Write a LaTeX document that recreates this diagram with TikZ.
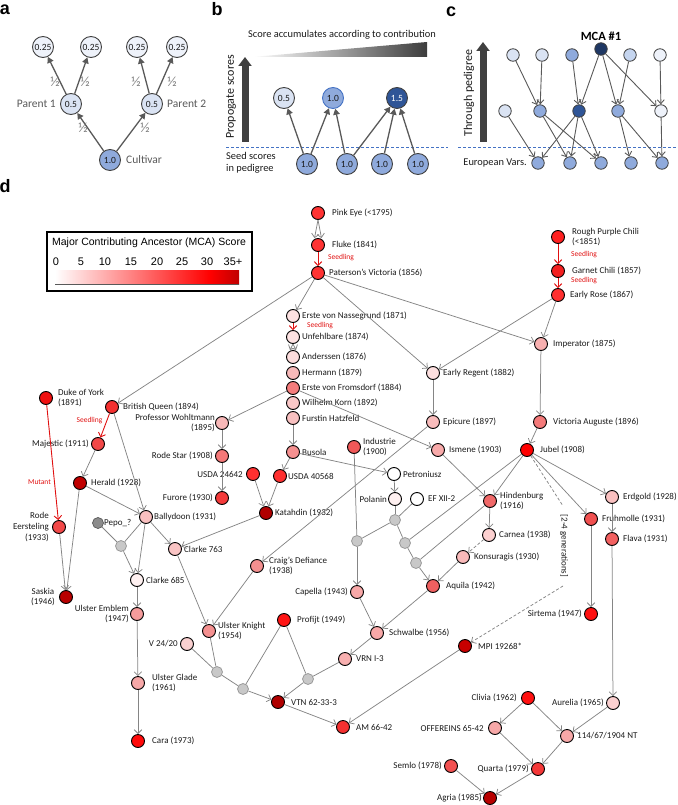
\documentclass[tikz,border=0pt]{standalone}
\usepackage{fontspec}
\setmainfont{Carlito}
\newfontfamily\arialfont{Liberation Sans}
\usetikzlibrary{arrows.meta}

\definecolor{edgegray}{HTML}{858585}
\definecolor{seedred}{HTML}{E01010}
\definecolor{ink}{HTML}{1A1A1A}
\definecolor{softink}{HTML}{595959}
\definecolor{halfink}{HTML}{7F7F7F}
\definecolor{bluePale}{HTML}{EEF2FA}
\definecolor{blueLight}{HTML}{DAE3F3}
\definecolor{blueSoft}{HTML}{C5D5EF}
\definecolor{blueMid}{HTML}{8FAADC}
\definecolor{blueDark}{HTML}{2F5597}
\definecolor{blueNavy}{HTML}{1F3864}
\definecolor{blueLine}{HTML}{4472C4}
\definecolor{crossgray}{HTML}{C8C8C8}
\definecolor{crossline}{HTML}{9A9A9A}
\definecolor{pepogray}{HTML}{8C8C8C}
\definecolor{bigarrow}{HTML}{404040}
\definecolor{deepred}{HTML}{C00000}

\tikzset{
  letter/.style={inner sep=0pt, font=\arialfont\bfseries\fontsize{18}{18}\selectfont},
  an/.style={circle, draw=bigarrow, line width=0.9pt, minimum size=21pt, inner sep=0pt,
             font=\fontsize{9.5}{10}\selectfont, text=ink},
  cn/.style={circle, draw=bigarrow, line width=0.8pt, minimum size=12.5pt, inner sep=0pt},
  pn/.style={circle, draw=black, line width=0.9pt, minimum size=13pt, inner sep=0pt},
  gn/.style={circle, draw=crossline, fill=crossgray, line width=0.8pt, minimum size=11pt, inner sep=0pt},
  lab/.style={inner sep=0pt, font=\fontsize{9}{10.6}\selectfont, text=ink},
  note/.style={inner sep=0pt, font=\fontsize{7.5}{8}\selectfont, text=seedred},
  paneltext/.style={inner sep=0pt, font=\fontsize{11.5}{13}\selectfont, text=softink},
  btext/.style={inner sep=0pt, font=\fontsize{10.4}{12}\selectfont, text=ink},
  half/.style={inner sep=0pt, font=\fontsize{14}{14}\selectfont, text=halfink},
  fat/.style={draw=softink, line width=1.3pt, -{Triangle[length=6pt,width=6.5pt]}},
  thin/.style={draw=softink, line width=0.9pt, -{Straight Barb[length=4pt,width=7pt]}},
  ped/.style={draw=edgegray, line width=0.75pt},
  pa/.style={ped, -{Straight Barb[length=3.8pt,width=7.5pt]}},
  ra/.style={draw=seedred, line width=0.9pt, -{Straight Barb[length=3.8pt,width=7.5pt]}},
  da/.style={pa, dash pattern=on 3pt off 2pt},
  dl/.style={ped, dash pattern=on 3pt off 2pt},
  legtext/.style={inner sep=0pt, font=\arialfont\fontsize{10.5}{12}\selectfont, text=black},
  legnum/.style={inner sep=0pt, font=\arialfont\fontsize{11}{12}\selectfont, text=black},
}

% pedigree variety: id, x, y, fill (HTML), label options, label x offset, label text
\newcommand\pv[7]{%
  \definecolor{pvfill}{HTML}{#4}%
  \node[pn, fill=pvfill] (#1) at (#2,#3) {};%
  \node[lab, #5] (#1-t) at ([xshift=#6pt]#1.center) {#7};}

\begin{document}
\begin{tikzpicture}[x=1pt,y=-1pt]
\useasboundingbox (0,0) rectangle (677,805);

% ---------------- panel letters ----------------
\node[letter] (la) at (5,10) {a};
\node[letter] (lb) at (217,9) {b};
\node[letter] (lc) at (451,12) {c};
\node[letter] (ld) at (5,186) {d};

% ---------------- panel a: score halving ----------------
\node[an, fill=bluePale] (a1) at (43,47) {0.25};
\node[an, fill=bluePale] (a2) at (91,47) {0.25};
\node[an, fill=bluePale] (a3) at (137,47) {0.25};
\node[an, fill=bluePale] (a4) at (177,47) {0.25};
\node[an, fill=blueLight] (p1) at (71,104) {0.5};
\node[an, fill=blueLight] (p2) at (152,104) {0.5};
\node[an, fill=blueMid] (cv) at (110,160) {1.0};
\draw[fat] (p1) -- (a1);
\draw[fat] (p1) -- (a2);
\draw[fat] (p2) -- (a3);
\draw[fat] (p2) -- (a4);
\draw[fat] (cv) -- (p1);
\draw[fat] (cv) -- (p2);
\node[half] (h1) at (55,82) {½};
\node[half] (h2) at (85,82) {½};
\node[half] (h3) at (136,82) {½};
\node[half] (h4) at (172,82) {½};
\node[half] (h5) at (83,128) {½};
\node[half] (h6) at (145,128) {½};
\node[paneltext, anchor=east] (p1t) at (56,104) {Parent 1};
\node[paneltext, anchor=west] (p2t) at (167,104) {Parent 2};
\node[paneltext, anchor=west] (cvt) at (126,160) {Cultivar};

% ---------------- panel b: accumulation ----------------
\node[btext] (acc) at (342,35) {Score accumulates according to contribution};
\shade[left color=white, right color=bigarrow!95!black] (252,57) -- (427,42) -- (427,57) -- cycle;
\coordinate (bstart) at (245,142);
\coordinate (bend) at (245,57);
\draw[draw=bigarrow, line width=7pt, -{Triangle[length=9pt,width=13pt]}] (bstart) -- (bend);
\node[inner sep=0pt, font=\fontsize{12}{13}\selectfont, text=ink, rotate=90] (prop) at (231,97) {Propogate scores};
\coordinate (bl0) at (226,147);
\coordinate (bl1) at (448,147);
\draw[blueLine, dash pattern=on 3pt off 2pt, line width=0.7pt] (bl0) -- (bl1);
\node[btext, anchor=west, align=left] (seed) at (226,163) {Seed scores\\in pedigree};
\node[an, fill=blueMid] (b1) at (307,164) {1.0};
\node[an, fill=blueMid] (b2) at (347,164) {1.0};
\node[an, fill=blueMid] (b3) at (382,164) {1.0};
\node[an, fill=blueMid] (b4) at (418,164) {1.0};
\node[an, fill=blueLight] (bt1) at (284,98) {0.5};
\node[an, fill=blueMid, draw=blueLine] (bt2) at (333,98) {1.0};
\node[an, fill=blueDark, text=white] (bt3) at (397,98) {1.5};
\draw[fat] (b1) -- (bt1);
\draw[fat] (b1) -- (bt2);
\draw[fat] (b2) -- (bt2);
\draw[fat] (b2) -- (bt3);
\draw[fat] (b3) -- (bt3);
\draw[fat] (b4) -- (bt3);

% ---------------- panel c: through pedigree ----------------
\node[inner sep=0pt, font=\bfseries\fontsize{12.5}{13}\selectfont, text=black] (mcat) at (601,36) {MCA \#1};
\coordinate (cstart) at (483,142);
\coordinate (cend) at (483,42);
\draw[draw=bigarrow, line width=7pt, -{Triangle[length=9pt,width=13pt]}] (cstart) -- (cend);
\node[inner sep=0pt, font=\fontsize{12}{13}\selectfont, text=ink, rotate=90] (thr) at (469,93) {Through pedigree};
\coordinate (cl0) at (458,147);
\coordinate (cl1) at (677,147);
\draw[blueLine, dash pattern=on 3pt off 2pt, line width=0.7pt] (cl0) -- (cl1);
\node[btext, anchor=east] (euro) at (527,163) {European Vars.};
\node[cn, fill=blueLight] (c11) at (513,55) {};
\node[cn, fill=blueLight] (c12) at (542,55) {};
\node[cn, fill=blueMid] (c13) at (572,55) {};
\node[cn, fill=blueNavy] (cm) at (601,49) {};
\node[cn, fill=blueSoft] (c15) at (630,55) {};
\node[cn, fill=bluePale] (c16) at (660,55) {};
\node[cn, fill=blueLight] (c21) at (505,111) {};
\node[cn, fill=blueMid] (c22) at (540,111) {};
\node[cn, fill=blueDark] (c23) at (579,111) {};
\node[cn, fill=blueMid] (c24) at (618,111) {};
\node[cn, fill=bluePale] (c25) at (661,111) {};
\node[cn, fill=blueMid] (c31) at (538,163) {};
\node[cn, fill=blueMid] (c32) at (570,163) {};
\node[cn, fill=blueMid] (c33) at (601,163) {};
\node[cn, fill=blueMid] (c34) at (631,163) {};
\node[cn, fill=blueMid] (c35) at (662,163) {};
\draw[thin] (c11) -- (c22);
\draw[thin] (c12) -- (c22);
\draw[thin] (c13) -- (c23);
\draw[thin] (cm) -- (c23);
\draw[thin] (cm) -- (c24);
\draw[thin] (cm) -- (c25);
\draw[thin] (c15) -- (c24);
\draw[thin] (c16) -- (c25);
\draw[thin] (c21) -- (c31);
\draw[thin] (c22) -- (c32);
\draw[thin] (c22) -- (c33);
\draw[thin] (c23) -- (c31);
\draw[thin] (c23) -- (c32);
\draw[thin] (c23) -- (c33);
\draw[thin] (c24) -- (c34);
\draw[thin] (c24) -- (c35);
\draw[thin] (c25) -- (c35);

% ---------------- panel d: legend ----------------
\draw[line width=2pt] (47,232) rectangle (252,291);
\node[legtext] (legt) at (149,243) {Major Contributing Ancestor (MCA) Score};
\node[legnum] (n0) at (56,262) {0};
\node[legnum] (n5) at (81,262) {5};
\node[legnum] (n10) at (105,262) {10};
\node[legnum] (n15) at (131,262) {15};
\node[legnum] (n20) at (157,262) {20};
\node[legnum] (n25) at (182,262) {25};
\node[legnum] (n30) at (207,262) {30};
\node[legnum] (n35) at (233,262) {35+};
\shade[left color=white, right color=red] (55,270) rectangle (210,284);
\shade[left color=red, right color=deepred] (210,270) rectangle (239,284);
\draw[softink, line width=0.9pt] (55,284) -- (239,284);

% ---------------- panel d: pedigree varieties ----------------
\pv{pinkeye}{318}{213}{FF3333}{anchor=west}{14}{Pink Eye (<1795)}
\pv{fluke}{318}{245}{FF3333}{anchor=west}{14}{Fluke (1841)}
\pv{paterson}{318}{273}{FF3333}{anchor=west}{11}{Paterson’s Victoria (1856)}
\pv{rpc}{558}{237}{FF2020}{anchor=west,align=left}{14}{Rough Purple Chili\\(<1851)}
\pv{garnet}{558}{271}{F42020}{anchor=west}{14}{Garnet Chili (1857)}
\pv{earlyrose}{558}{295}{FF3030}{anchor=west}{12}{Early Rose (1867)}
\pv{nasse}{293}{316}{FDE2E2}{anchor=west}{9}{Erste von Nassegrund (1871)}
\pv{unfehl}{293}{337}{FDE2E2}{anchor=west}{9}{Unfehlbare (1874)}
\pv{anders}{293}{357}{FCDCDC}{anchor=west}{9}{Anderssen (1876)}
\pv{hermann}{293}{373}{F8BABA}{anchor=west}{9}{Hermann (1879)}
\pv{fromsd}{293}{388}{F47C7C}{anchor=west}{9}{Erste von Fromsdorf (1884)}
\pv{korn}{293}{403}{FAC8C8}{anchor=west}{9}{Wilhelm Korn (1892)}
\pv{hatz}{293}{418}{F8C0C0}{anchor=west}{9}{Furstin Hatzfeld}
\pv{busola}{293}{452}{F69090}{anchor=west}{9}{Busola}
\pv{usdab}{280}{476}{FF3030}{anchor=west}{8}{USDA 40568}
\pv{usdaa}{253}{474}{FF3030}{anchor=east,fill=white}{-10}{USDA 24642}
\pv{industrie}{354}{447}{F05858}{anchor=west,align=left}{9}{Industrie\\(1900)}
\pv{petron}{394}{474}{FFFFFF}{anchor=west}{9}{Petroniusz}
\pv{eregent}{433}{373}{FDE0E0}{anchor=west}{10}{Early Regent (1882)}
\pv{imperator}{541}{344}{F8B0B0}{anchor=west}{12}{Imperator (1875)}
\pv{epicure}{433}{422}{F9BCBC}{anchor=west}{10}{Epicure (1897)}
\pv{vicaug}{540}{422}{F47A7A}{anchor=west}{13}{Victoria Auguste (1896)}
\pv{ismene}{438}{450}{F8AAAA}{anchor=west}{11}{Ismene (1903)}
\pv{jubel}{527}{450}{FF0000}{anchor=west}{13}{Jubel (1908)}
\pv{polanin}{395}{499}{FEF0F0}{anchor=east}{-8}{Polanin}
\pv{efxii}{417}{499}{FFFFFF}{anchor=west}{11}{EF XII-2}
\pv{hindenburg}{490}{501}{F06868}{anchor=west,align=left}{10}{Hindenburg\\(1916)}
\pv{erdgold}{612}{497}{F9C0C0}{anchor=west}{11}{Erdgold (1928)}
\pv{fruhmolle}{591}{519}{F05050}{anchor=west}{11}{Fruhmolle (1931)}
\pv{flava}{612}{539}{F26060}{anchor=west}{11}{Flava (1931)}
\pv{carnea}{489}{535}{FCD0D0}{anchor=west}{10}{Carnea (1938)}
\pv{konsur}{463}{557}{F9BABA}{anchor=west}{11}{Konsuragis (1930)}
\pv{aquila}{433}{586}{F06060}{anchor=west}{13}{Aquila (1942)}
\pv{sirtema}{591}{614}{FF1010}{anchor=east}{-9}{Sirtema (1947)}
\pv{schwalbe}{377}{633}{F8A8A8}{anchor=west}{12}{Schwalbe (1956)}
\pv{vrn}{345}{659}{F8B0B0}{anchor=west}{11}{VRN I-3}
\pv{am}{343}{727}{F43030}{anchor=west}{13}{AM 66-42}
\pv{mpi}{465}{646}{C80000}{anchor=west}{13}{MPI 19268*}
\pv{clivia}{528}{698}{FF1010}{anchor=east}{-11}{Clivia (1962)}
\pv{aurelia}{613}{703}{FBD0D0}{anchor=east}{-9}{Aurelia (1965)}
\pv{offereins}{495}{728}{F7A8A8}{anchor=east}{-11}{OFFEREINS 65-42}
\pv{nt}{567}{736}{F7A8A8}{anchor=west}{10}{114/67/1904 NT}
\pv{quarta}{538}{769}{F43838}{anchor=east}{-9}{Quarta (1979)}
\pv{semlo}{451}{766}{F25050}{anchor=east}{-9}{Semlo (1978)}
\pv{agria}{490}{798}{B80000}{anchor=east}{-8}{Agria (1985)}
\pv{duke}{46}{398}{F01010}{anchor=west,align=left}{12}{Duke of York\\(1891)}
\pv{bqueen}{112}{407}{F43030}{anchor=west}{11}{British Queen (1894)}
\pv{wohlt}{222}{423}{F8B8B8}{anchor=east,align=right}{-7}{Professor Wohltmann\\(1895)}
\pv{majestic}{98}{444}{F24848}{anchor=east}{-9}{Majestic (1911)}
\pv{rodestar}{222}{456}{F47878}{anchor=east}{-9}{Rode Star (1908)}
\pv{herald}{80}{483}{C00000}{anchor=west}{11}{Herald (1928)}
\pv{furore}{222}{498}{F43A3A}{anchor=east}{-9}{Furore (1930)}
\pv{katahdin}{266}{513}{B00000}{anchor=west}{9}{Katahdin (1932)}
\pv{ballydoon}{146}{517}{F9C0C0}{anchor=west}{8}{Ballydoon (1931)}
\pv{rodeeer}{59}{527}{F24848}{anchor=east,align=right}{-10}{Rode\\Eersteling\\(1933)}
\pv{clarkea}{175}{549}{F9C4C4}{anchor=west}{9}{Clarke 763}
\pv{clarkeb}{137}{580}{FEF0F0}{anchor=west}{9}{Clarke 685}
\pv{craig}{257}{566}{F49090}{anchor=west,align=left}{12}{Craig’s Defiance\\(1938)}
\pv{saskia}{66}{597}{B80000}{anchor=east,align=center}{-11}{Saskia\\(1946)}
\pv{capella}{357}{592}{F8A8A8}{anchor=east}{-9}{Capella (1943)}
\pv{uemblem}{137}{614}{F59C9C}{anchor=east,align=right}{-8}{Ulster Emblem\\(1947)}
\pv{uknight}{209}{631}{F49090}{anchor=west,align=left}{9}{Ulster Knight\\(1954)}
\pv{profijt}{284}{620}{FF1515}{anchor=west}{13}{Profijt (1949)}
\pv{vtwenty}{187}{644}{FAD0D0}{anchor=east}{-9}{V 24/20}
\pv{vtn}{278}{702}{B00000}{anchor=west}{13}{VTN 62-33-3}
\pv{uglade}{138}{683}{F7A8A8}{anchor=west,align=left}{14}{Ulster Glade\\(1961)}
\pv{cara}{138}{741}{FF0A0A}{anchor=west}{14}{Cara (1973)}

% unnamed crosses and the unknown parent
\node[circle, draw=softink, fill=pepogray, line width=0.7pt, minimum size=11pt, inner sep=0pt] (pepo) at (98,523) {};
\node[lab, anchor=west] (pepo-t) at (104,523) {Pepo\_?};
\node[gn] (x1) at (395,520) {};
\node[gn] (x2) at (405,543) {};
\node[gn] (x3) at (416,563) {};
\node[gn] (x4) at (357,541) {};
\node[gn] (x5) at (121,546) {};
\node[gn] (x6) at (217,672) {};
\node[gn] (x7) at (243,689) {};
\node[gn] (x8) at (308,679) {};

% seedling / mutant notes
\node[note, anchor=west] (s1) at (328,258) {Seedling};
\node[note, anchor=west] (s2) at (571,255) {Seedling};
\node[note, anchor=west] (s3) at (571,281) {Seedling};
\node[note, anchor=west] (s4) at (307,326) {Seedling};
\node[note] (s5) at (89.5,421) {Seedling};
\node[note] (s6) at (39.5,482) {Mutant};

% red (seedling / mutant) descent
\draw[ra] (fluke) -- (paterson);
\draw[ra] (rpc) -- (garnet);
\draw[ra] (garnet) -- (earlyrose);
\draw[ra] (nasse) -- (unfehl);
\draw[ra] (bqueen) -- (majestic);
\draw[ra] (duke) -- (rodeeer);

% parentage
\draw[pa] (pinkeye.south) -- ([xshift=-3.5pt]fluke.north);
\draw[pa] (pinkeye.south) -- ([xshift=3.5pt]fluke.north);
\draw[pa] (unfehl.south) -- ([xshift=-3pt]anders.north);
\draw[pa] (unfehl.south) -- ([xshift=3pt]anders.north);
\draw[pa] (paterson) -- (nasse);
\draw[pa] (paterson) -- (bqueen);
\draw[pa] (paterson) -- (eregent);
\draw[pa] (paterson) -- (imperator);
\draw[pa] (earlyrose) -- (eregent);
\draw[pa] (earlyrose) -- (imperator);
\draw[pa] (fromsd) -- (wohlt);
\draw[pa] (fromsd) -- (ismene);
\draw[pa] (hatz) -- (busola);
\draw[pa] (busola) -- (usdab);
\draw[pa] (busola) -- (petron);
\draw[pa] (petron) -- (polanin);
\draw[pa] (eregent) -- (epicure);
\draw[pa] (imperator) -- (vicaug);
\draw[pa] (vicaug) -- (jubel);
\draw[pa] (epicure) -- (craig);
\draw[pa] (ismene) -- (hindenburg);
\draw[pa] (jubel) -- (hindenburg);
\draw[pa] (jubel) -- (fruhmolle);
\draw[pa] (jubel) -- (erdgold);
\draw[pa] (hindenburg) -- (carnea);
\draw[da] (carnea) -- (konsur);
\draw[pa] (konsur) -- (aquila);
\draw[pa] (x3) -- (aquila);
\draw[pa] (erdgold) -- (flava);
\draw[pa] (flava) -- (aurelia);
\draw[pa] (fruhmolle) -- (sirtema);
\draw[pa] (x4) -- (capella);
\draw[pa] (aquila) -- (schwalbe);
\draw[pa] (capella) -- (schwalbe);
\draw[pa] (schwalbe) -- (vrn);
\draw[pa] (x8) -- (vtn);
\draw[pa] (x7) -- (vtn);
\draw[pa] (vtn) -- (am);
\draw[pa] (mpi) -- (am);
\draw[pa] (clarkea) -- (uknight);
\draw[pa] (craig) -- (uknight);
\draw[pa] (katahdin) -- (clarkea);
\draw[pa] (usdaa) -- (katahdin);
\draw[pa] (usdab) -- (katahdin);
\draw[pa] (wohlt) -- (rodestar);
\draw[pa] (rodestar) -- (furore);
\draw[pa] (bqueen) -- (ballydoon);
\draw[pa] (majestic) -- (herald);
\draw[pa] (herald) -- (ballydoon);
\draw[pa] (herald) -- (saskia);
\draw[pa] (rodeeer) -- (saskia);
\draw[pa] (ballydoon) -- (clarkea);
\draw[pa] (x5) -- (clarkeb);
\draw[pa] (ballydoon) -- (clarkeb);
\draw[pa] (clarkeb) -- (uemblem);
\draw[pa] (uemblem) -- (uglade);
\draw[pa] (uglade) -- (cara);
\draw[pa] (clivia) -- (offereins);
\draw[pa] (clivia) -- (nt);
\draw[pa] (aurelia) -- (nt);
\draw[pa] (offereins) -- (quarta);
\draw[pa] (nt) -- (quarta);
\draw[pa] (quarta) -- (agria);
\draw[pa] (semlo) -- (agria);

% crosses without a named product
\draw[ped] (polanin) -- (x1);
\draw[ped] (efxii) -- (x1);
\draw[ped] (x1) -- (x2);
\draw[ped] (x2) -- (x3);
\draw[ped] (jubel) -- (x2);
\draw[ped] (hindenburg) -- (x3);
\draw[ped] (industrie) -- (x4);
\draw[ped] (x1) -- (x4);
\draw[ped] (vrn) -- (x8);
\draw[ped] (profijt) -- (x8);
\draw[ped] (profijt) -- (x7);
\draw[ped] (x6) -- (x7);
\draw[ped] (vtwenty) -- (x6);
\draw[ped] (uknight) -- (x6);
\draw[ped] (ballydoon) -- (x5);
\draw[ped] (pepo) -- (x5);

% several generations between Jubel and MPI 19268
\coordinate (gtop) at (563,506);
\coordinate (gbot) at (563,586);
\draw[dl] (jubel) -- (gtop);
\draw[da] (gbot) -- (mpi);
\node[lab, rotate=-90] (gens) at (564,546) {[2-4 generations]};

\end{tikzpicture}
\end{document}
